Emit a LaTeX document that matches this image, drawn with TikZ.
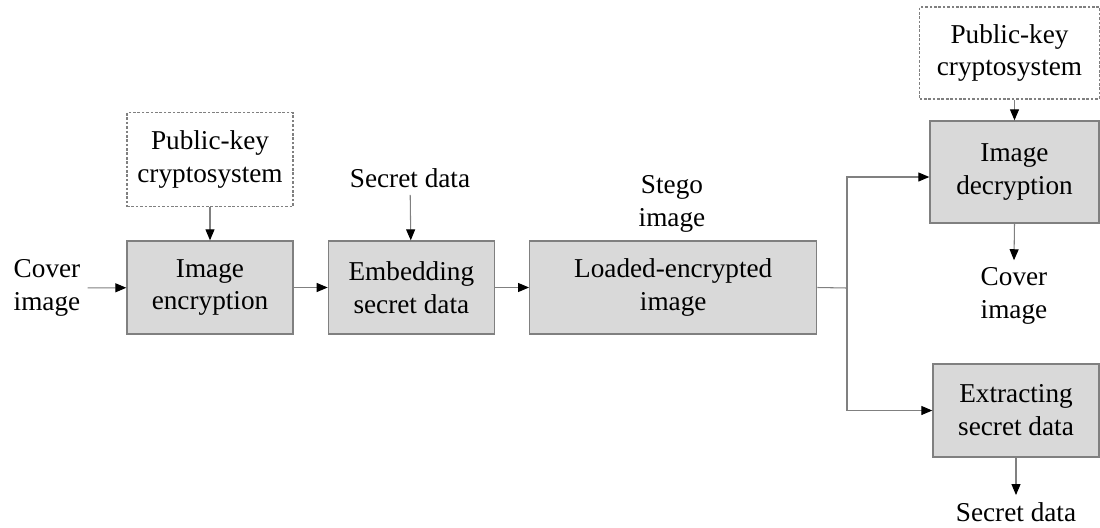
\documentclass[tikz,border=0pt]{standalone}
\usepackage{fontspec}
\setmainfont{Liberation Serif}
\usetikzlibrary{arrows.meta,positioning}
\definecolor{boxfill}{HTML}{D9D9D9}
\definecolor{boxline}{HTML}{808080}
\newcommand{\diagfont}{\fontsize{15.5}{18.7}\selectfont}
\tikzset{
  stage/.style={draw=boxline, line width=0.8pt, fill=boxfill, minimum width=3.32cm, minimum height=1.86cm, inner sep=0pt, align=center, font=\diagfont},
  keybox/.style={draw=boxline, dash pattern=on 1.5pt off 1pt, line width=0.6pt, minimum width=3.32cm, minimum height=1.88cm, inner sep=0pt, align=center, font=\diagfont},
  tag/.style={align=center, inner sep=4pt, font=\diagfont},
  flow/.style={-{Triangle[length=2.2mm, width=1.8mm, color=black]}, line width=0.6pt, draw=boxline}
}
\begin{document}
\begin{tikzpicture}[x=0.02cm, y=-0.02cm, node distance=0.68cm]
  \useasboundingbox (0,0) rectangle (1100,528);
  % embedding side
  \node[stage] (enc) at (210,287.5) {Image\\encryption};
  \node[stage, right=of enc] (embed) {Embedding\\secret data};
  \node[stage, right=of embed, minimum width=5.74cm] (loaded) {Loaded-encrypted\\image};
  \node[keybox, above=0.66cm of enc] (keyl) {Public-key\\cryptosystem};
  \node[tag] (cover) at (47,288) {Cover\\image};
  \node[tag] (secret) at (410,178) {Secret data};
  \node[tag] (stego) at (672,204) {Stego\\image};

  % receiver side
  \node[keybox, minimum width=3.6cm, minimum height=1.84cm] (keyr) at (1009.5,53) {Public-key\\cryptosystem};
  \node[stage, minimum width=3.38cm, minimum height=2.04cm] (dec) at (1014.5,172) {Image\\decryption};
  \node[stage] (extract) at (1016,410.5) {Extracting\\secret data};
  \node[tag] (outcover) at (1014,296) {Cover\\image};
  \node[tag] (outsecret) at (1016,512) {Secret data};
  \coordinate (split) at (847,288);

  \draw[flow] (cover) -- (enc);
  \draw[flow] (keyl) -- (enc);
  \draw[flow] (enc) -- (embed);
  \draw[flow] (secret) -- (embed);
  \draw[flow] (embed) -- (loaded);
  \draw[line width=0.6pt, draw=boxline] (loaded.east) -- (split);
  \draw[flow] (split) |- ([yshift=-0.1cm]dec.west);
  \draw[flow] (split) |- (extract.west);
  \draw[flow] (dec.north |- keyr.south) -- (dec.north);
  \draw[flow] (dec.south) -- (outcover.north);
  \draw[flow] (extract.south) -- (outsecret.north);
\end{tikzpicture}
\end{document}
